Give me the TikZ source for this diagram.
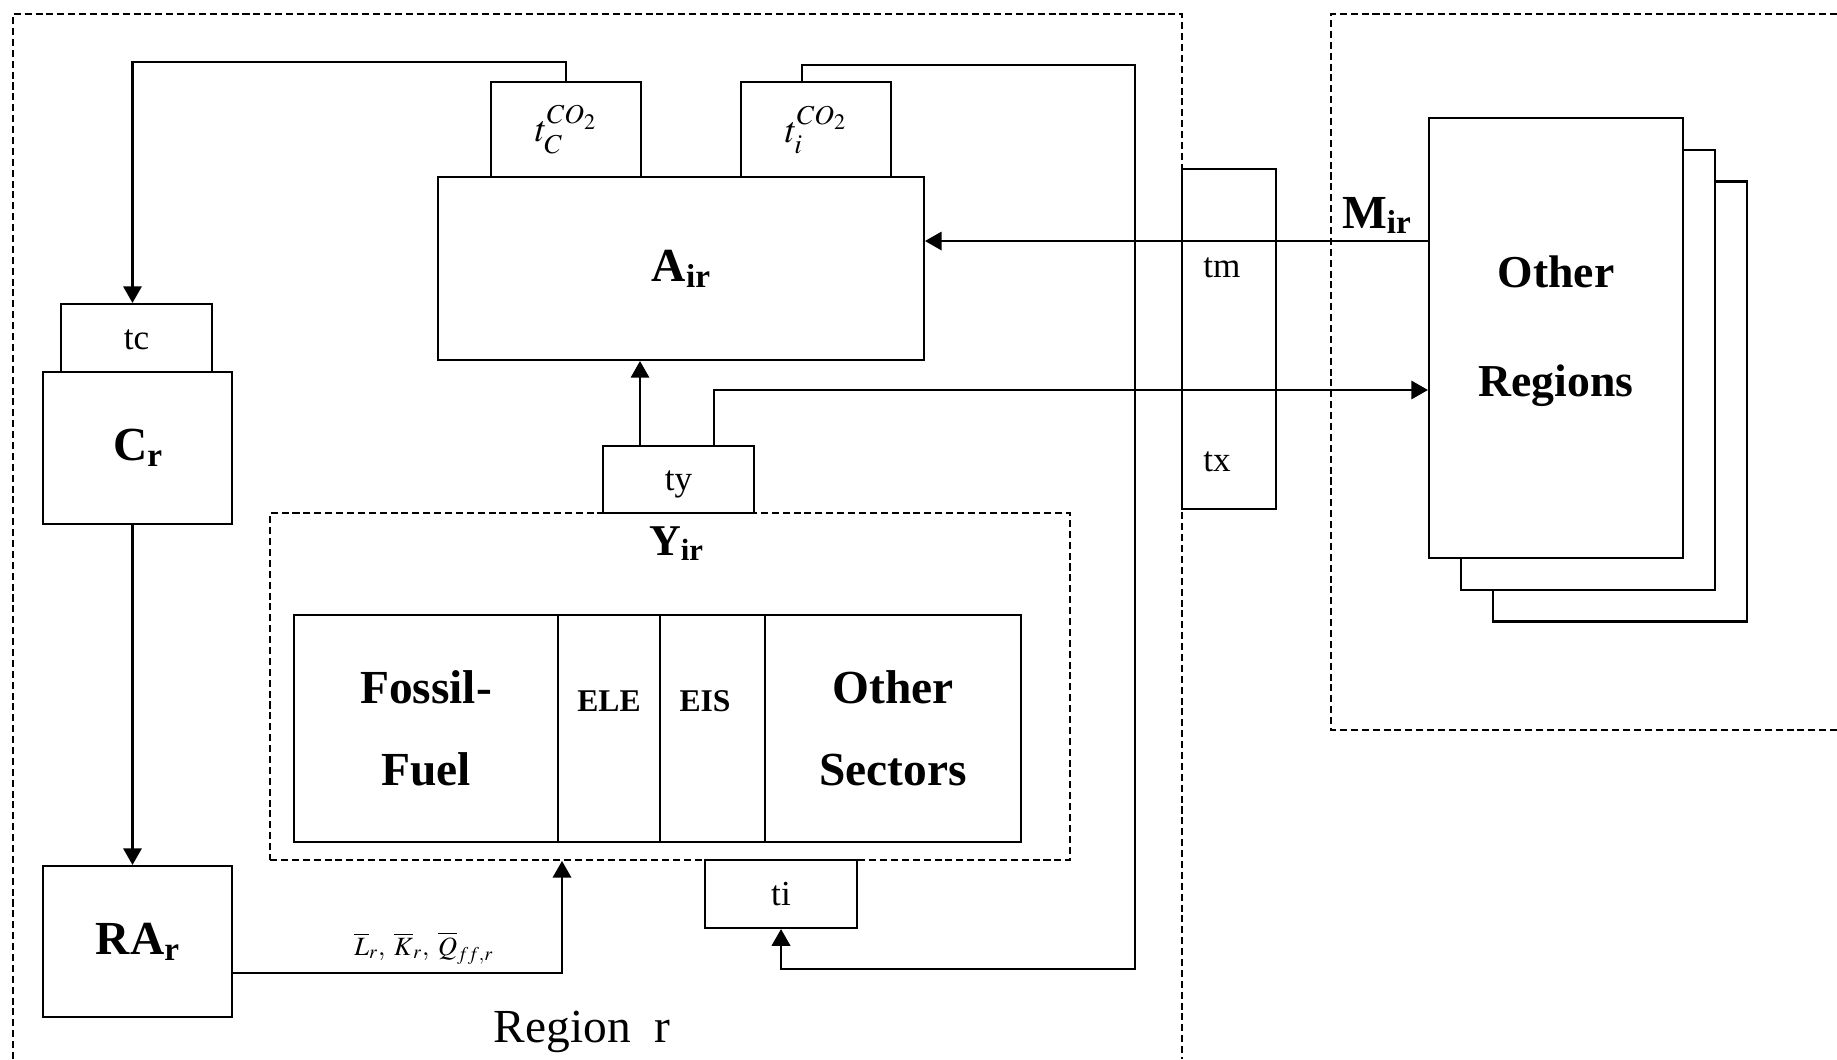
\documentclass[tikz,border=0pt]{standalone}
\usepackage{mathptmx}
\usepackage{fontspec}
\setmainfont{Liberation Serif}
\usepackage{graphicx}
\usetikzlibrary{arrows.meta, positioning, calc}
\newcommand{\bsub}[2]{#1\raisebox{-0.12em}{\scalebox{0.7}{#2}}}

\begin{document}
\begin{tikzpicture}[
    x=0.02cm, y=-0.02cm,
    box/.style = {rectangle, draw=black, line width=1.2pt, fill=white, inner sep=0pt},
    tlab/.style = {font=\fontsize{20}{24}\selectfont, inner sep=0pt},
    tbox/.style = {box, tlab, text height=12.8pt, text depth=0pt},
    cobox/.style = {box, minimum width=3cm, minimum height=1.9cm, font=\fontsize{21}{25}\selectfont},
    big/.style = {font=\fontsize{27}{32}\selectfont\bfseries},
    agent/.style = {box, big, minimum width=3.78cm},
    sect/.style = {box, outer sep=0pt, minimum height=4.54cm, align=center, font=\fontsize{27}{46.7}\selectfont\bfseries},
    small/.style = {font=\fontsize{18}{22}\selectfont\bfseries, anchor=base},
    stack/.style = {box, minimum width=5.08cm, minimum height=8.8cm},
    zone/.style = {draw=black, line width=1.1pt, dash pattern=on 4pt off 2.2pt},
    arrow/.style = {-{Triangle[length=9.5pt, width=10.5pt]}, line width=1.2pt}
]

\useasboundingbox (0,0) rectangle (1837,1059);

% Regions
\draw[zone] (13,1059) -- (13,14) -- (1182,14) -- (1182,1059);
\draw[zone] (1837,14) -- (1331,14) -- (1331,730) -- (1837,730);

% Region r
\node[cobox] (tC) at (566,129.5) {$t_C^{CO_2}$};
\node[cobox] (tiCO) at (816,129.5) {$t_i^{CO_2}$};
\node[box, big, minimum width=9.72cm, minimum height=3.66cm] (A) at (681,268.5) {\bsub{A}{ir}};
\node[tbox, minimum width=3.02cm, minimum height=1.36cm] (tc) at (136.5,338) {tc};
\node[agent, minimum height=3.04cm] (Cr) at (137.5,448) {\bsub{C}{r}};
\node[agent, minimum height=3.02cm] (RA) at (137.5,941.5) {\bsub{RA}{r}};

% Production
\node[zone, minimum width=16cm, minimum height=6.94cm] (Yreg) at (670,686.5) {};
\node[tbox, minimum width=3.02cm, minimum height=1.34cm] (ty) at (678.5,479.5) {ty};
\node[font=\fontsize{25}{30}\selectfont\bfseries, anchor=base] (Ylab) at (676,555) {\bsub{Y}{ir}};
\node[sect, minimum width=5.28cm] (FF) at (426,728.5) {Fossil-\\Fuel};
\node[sect, minimum width=2.04cm, right=0pt of FF] (ELE) {};
\node[sect, minimum width=2.1cm, right=0pt of ELE] (EIS) {};
\node[sect, minimum width=5.12cm, right=0pt of EIS] (OS) {Other\\Sectors};
\node[small] (eleTxt) at (609,711) {ELE};
\node[small] (eisTxt) at (705,711) {EIS};
\node[tbox, minimum width=3.04cm, minimum height=1.36cm] (ti) at (781,894) {ti};
\node[font=\fontsize{27}{32}\selectfont, anchor=base] (regTxt) at (582,1042) {Region\ \ r};

% Trade
\node[box, minimum width=1.88cm, minimum height=6.8cm] (tmx) at (1229,339) {};
\node[tlab, anchor=base west] (tmTxt) at (1203,277) {tm};
\node[tlab, anchor=base west] (txTxt) at (1203,471) {tx};

% Other regions
\node[stack] (OR3) at (1620,401.5) {};
\node[stack] (OR2) at (1588,370) {};
\node[stack] (OR1) at (1556,338) {};
\node[font=\fontsize{26}{62}\selectfont\bfseries, align=center] (orTxt) at (1556,331) {Other\\Regions};

% Edges
\coordinate (tyL) at ([xshift=-0.77cm]ty.north);
\coordinate (tyR) at ([xshift=0.71cm]ty.north);
\coordinate (mIn) at ([yshift=1.94cm]OR1.west);
\coordinate (rtop) at (1135,65);
\coordinate (rbot) at (1135,969);

\draw[arrow] (tC.north) -- ++(0,-19) -| ([xshift=-0.08cm]tc.north);
\draw[arrow] ([xshift=-0.1cm]Cr.south) -- ([xshift=-0.1cm]RA.north);
\draw[arrow] ([yshift=-0.63cm]RA.east) -| ([xshift=-2.16cm]Yreg.south)
    node[pos=0.29, anchor=base, yshift=0.36cm, font=\fontsize{15}{18}\selectfont] (lkq) {$\overline{L}_r,\;\overline{K}_r,\;\overline{Q}_{ff,r}$};

\draw[arrow] (tyL) -- (tyL |- A.south);
\draw[arrow] (tyR) |- ([yshift=-1.04cm]OR1.west);

\draw[arrow] (mIn) -- (mIn -| A.east);
\node[big, anchor=base east] (mTxt) at ([xshift=-0.22cm, yshift=0.26cm]mIn) {\bsub{M}{ir}};

\draw[arrow] ([xshift=-0.28cm]tiCO.north) |- (rtop) -- (rbot) -| (ti.south);

\end{tikzpicture}
\end{document}
